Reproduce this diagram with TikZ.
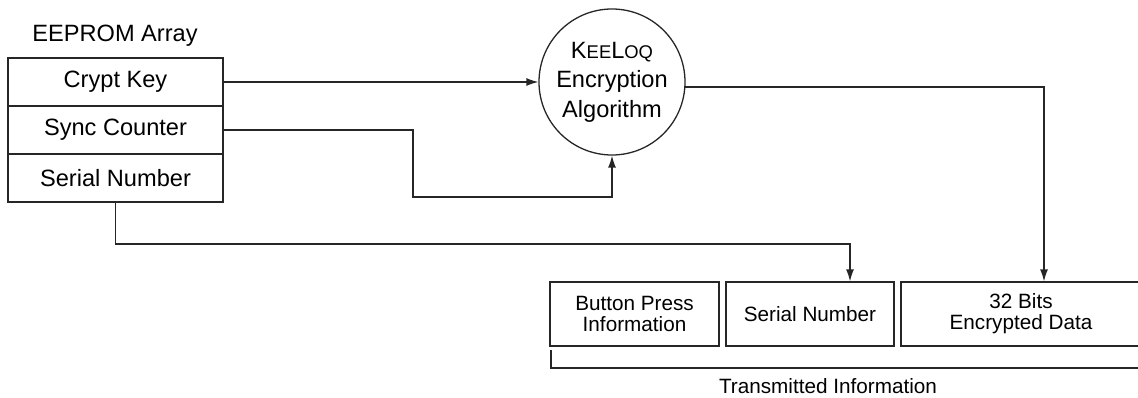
\documentclass[tikz,border=0pt]{standalone}
\usepackage{fontspec}
\setmainfont{Liberation Sans}
\usetikzlibrary{arrows.meta}
\tikzset{
  ln/.style={line width=1.3pt, draw=black!85},
  arr/.style={ln, -{Latex[length=12pt,width=8pt]}},
  rowbox/.style={ln, rectangle, minimum width=215pt, minimum height=48pt, inner sep=0pt,
     font=\fontsize{23.6}{28}\selectfont},
  txbox/.style={ln, rectangle, minimum height=64pt, inner sep=0pt, align=center,
     font=\fontsize{20.7}{21}\selectfont},
  bigtxt/.style={inner sep=0pt, font=\fontsize{23.6}{28}\selectfont},
  smtxt/.style={inner sep=0pt, font=\fontsize{20.7}{21}\selectfont}
}
\begin{document}
\begin{tikzpicture}[x=1pt,y=-1pt]
\useasboundingbox (0,0) rectangle (1138,398);
\begin{scope}
\clip (0,0) rectangle (1138,398);
% EEPROM array
\node[bigtxt, anchor=base] (title) at (115,42) {EEPROM Array};
\node[rowbox] (ck) at (115.5,82) {Crypt Key};
\node[rowbox] (sc) at (115.5,130) {Sync Counter};
\node[rowbox] (sn) at (115.5,178) {Serial Number};
% Algorithm
\node[ln, circle, minimum size=146pt, inner sep=0pt, align=center,
      font=\fontsize{23.6}{29.5}\selectfont] (alg) at (612,82)
  {K{\fontsize{18.4}{20}\selectfont EE}L{\fontsize{18.4}{20}\selectfont OQ}\\Encryption\\Algorithm};
% Transmitted boxes
\node[txbox, minimum width=169pt] (b1) at (634.5,314) {Button Press\\Information};
\node[txbox, minimum width=168pt] (b2) at (810,314) {Serial Number};
\node[txbox, minimum width=240pt] (b3) at (1021,314) {32 Bits\\Encrypted Data};
% bracket
\coordinate (brl) at (551,350);
\coordinate (brr) at (1150,368);
\draw[ln] (brl) |- (brr);
\node[smtxt] (ti) at (828,386) {Transmitted Information};
% connectors
\draw[arr] (ck.east) -- (alg.west);
\coordinate (s1) at (413,197);
\draw[arr] (sc.east) -| (s1) -| (alg.south);
\draw[arr] (alg.-4) -| ([xshift=23pt]b3.north);
\coordinate (snd) at (850,244);
\draw[arr] (sn.south) |- (snd) -- (snd |- b2.north);
\end{scope}
\end{tikzpicture}
\end{document}
